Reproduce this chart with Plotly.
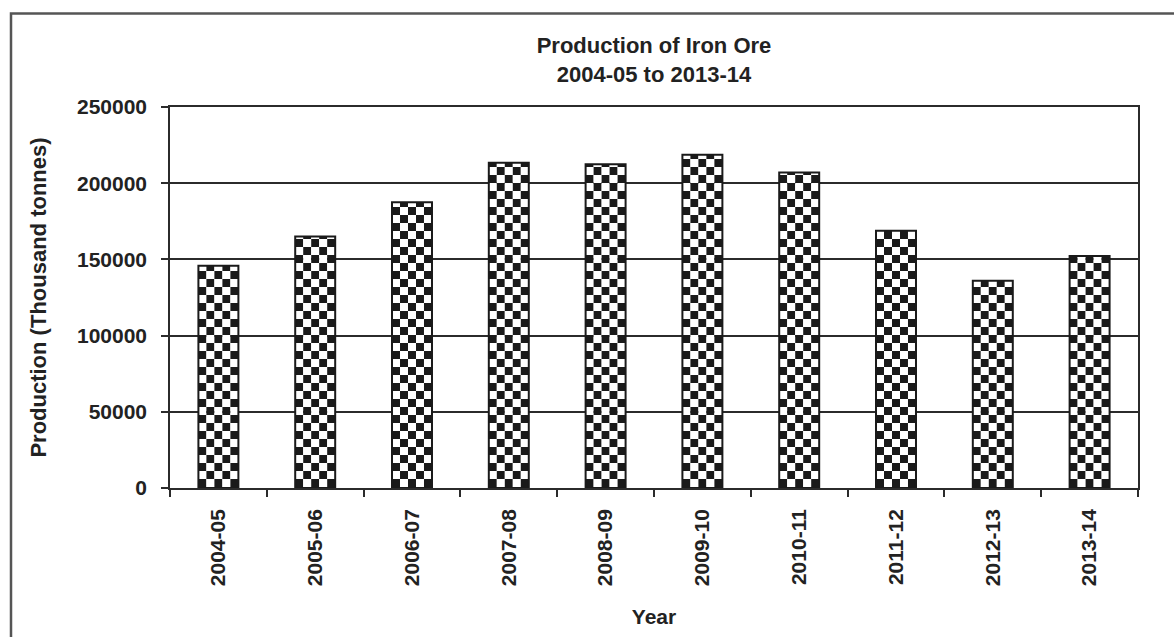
import plotly.graph_objects as go

years = ["2004-05", "2005-06", "2006-07", "2007-08", "2008-09",
         "2009-10", "2010-11", "2011-12", "2012-13", "2013-14"]
production = [145800, 165000, 187500, 213400, 212500,
              218700, 207100, 168800, 136000, 152300]

title_text = "Production of Iron Ore<br>2004-05 to 2013-14"
y_title = "Production (Thousand tonnes)"
x_title = "Year"
y_ticks = [0, 50000, 100000, 150000, 200000, 250000]

FONT = "Liberation Sans, Arial, sans-serif"
INK = "#222222"
LINE = "#2b2b2b"

# checkerboard fill: 5 narrow columns per bar, alternating inverted stripe patterns
n_cols = 5
col_w = 0.0826
fig = go.Figure()
for k in range(n_cols):
    even = (k % 2 == 0)
    fig.add_trace(go.Bar(
        x=years, y=production,
        width=col_w, offset=(k - n_cols / 2) * col_w,
        marker=dict(
            color="white" if even else "black",
            line=dict(width=0),
            pattern=dict(shape="-", size=16, solidity=0.5,
                         fgcolor="#1a1a1a" if even else "white",
                         bgcolor="white" if even else "#1a1a1a",
                         fillmode="replace"),
        ),
        showlegend=False, hoverinfo="skip",
    ))
# bar outlines
fig.add_trace(go.Bar(
    x=years, y=production,
    width=n_cols * col_w, offset=-n_cols / 2 * col_w,
    marker=dict(color="rgba(0,0,0,0)", line=dict(color="#1a1a1a", width=2)),
    showlegend=False, hoverinfo="x+y",
))

fig.update_layout(
    width=1174, height=637,
    margin=dict(l=170, r=36, t=107, b=147),
    paper_bgcolor="white", plot_bgcolor="white",
    barmode="overlay",
    font=dict(family=FONT, size=21, color=INK, weight="bold"),
    title=dict(text=title_text, x=0.5, xref="paper", xanchor="center",
               y=1 - 53 / 637, yref="container", yanchor="top",
               font=dict(family=FONT, size=22, color=INK, weight="bold")),
    shapes=[dict(type="rect", xref="paper", yref="paper",
                 x0=(11 - 170) / 968, x1=(1190 - 170) / 968,
                 y0=(490 - 660) / 383, y1=(490 - 13) / 383,
                 line=dict(color="#555555", width=2.5), fillcolor="rgba(0,0,0,0)",
                 layer="below")],
)

fig.update_xaxes(
    type="category", tickangle=-90, tickson="boundaries",
    ticks="outside", ticklen=7, tickwidth=1.5, tickcolor=LINE,
    showline=True, linecolor=LINE, linewidth=1.5, mirror=True,
    showgrid=False, ticklabelstandoff=11,
    tickfont=dict(family=FONT, size=21, color=INK, weight="bold"),
    title=dict(text=x_title, standoff=24,
               font=dict(family=FONT, size=21, color=INK, weight="bold")),
)
fig.update_yaxes(
    range=[0, 250000], tickvals=y_ticks, tickformat="d",
    ticks="outside", ticklen=7, tickwidth=1.5, tickcolor=LINE,
    showline=True, linecolor=LINE, linewidth=1.5, mirror=True,
    showgrid=True, gridcolor=LINE, gridwidth=1.5, zeroline=False,
    ticklabelstandoff=10,
    tickfont=dict(family=FONT, size=21, color=INK, weight="bold"),
    title=dict(text=y_title, standoff=24,
               font=dict(family=FONT, size=22, color=INK, weight="bold")),
)

fig.write_html("out.html")
